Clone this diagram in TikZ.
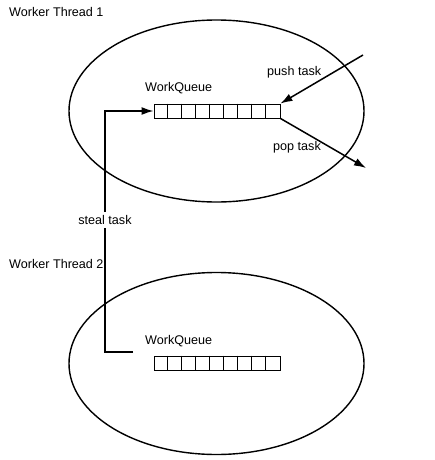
\documentclass[tikz,border=0pt]{standalone}
\usepackage{fontspec}
\setmainfont{Liberation Sans}
\usetikzlibrary{shapes,arrows.meta}

\tikzset{
	thread/.style={draw, ellipse, line width=1.4pt, minimum width=295pt, minimum height=182pt, inner sep=0pt},
	queue/.style={draw, line width=0.9pt, minimum width=126pt, minimum height=14pt, inner sep=0pt},
	flow/.style={line width=1.5pt, -{Latex[length=12pt,width=8pt]}},
	tag/.style={inner sep=0pt, anchor=west},
}

\begin{document}
\begin{tikzpicture}[x=1pt, y=-1pt, font=\fontsize{12.6}{14}\selectfont]
			\useasboundingbox (0,0) rectangle (435,460);
			% Worker Thread 1
			\node[tag] (title1) at (9,12) {Worker Thread 1};
			\node[thread] (thread1) at (216.5,111) {};
			\node[queue] (wq1) at (217,111) {};
			\foreach \i in {1,...,8}
				\draw[line width=0.9pt] ([xshift=14*\i pt]wq1.north west) -- ([xshift=14*\i pt]wq1.south west);
			\node[tag] (name1) at (145,88) {WorkQueue};
			\coordinate (pushin) at (363,55);
			\coordinate (popout) at (366,168);
			\draw[flow] (pushin) -- (wq1.north east);
			\node[tag] (push) at (267,72) {push task};
			\draw[flow] (wq1.south east) -- (popout);
			\node[tag] (pop) at (273,147) {pop task};
			% Worker Thread 2
			\node[tag] (title2) at (9,264) {Worker Thread 2};
			\node[thread] (thread2) at (216.5,363.5) {};
			\node[queue] (wq2) at (217,363) {};
			\foreach \i in {1,...,8}
				\draw[line width=0.9pt] ([xshift=14*\i pt]wq2.north west) -- ([xshift=14*\i pt]wq2.south west);
			\node[tag] (name2) at (145,341) {WorkQueue};
			% stealing
			\coordinate (stealfrom) at (133,352);
			\draw[flow] (stealfrom) -- ++(-28,0) |- (wq1.west);
			\node[fill=white, inner sep=3pt] (steal) at (105,220) {steal task};
		\end{tikzpicture}
\end{document}
